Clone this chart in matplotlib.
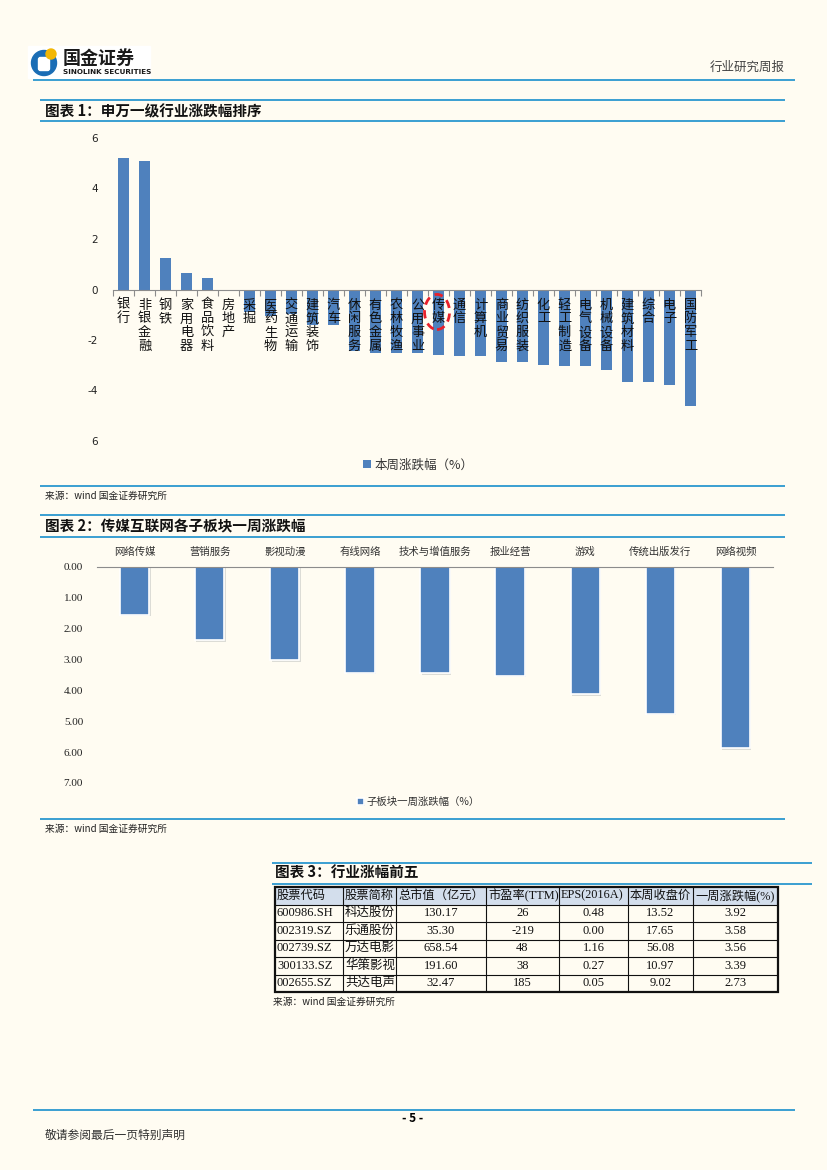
import matplotlib
matplotlib.use("Agg")
import matplotlib.pyplot as plt
from matplotlib.patches import Ellipse, Rectangle, Circle, FancyBboxPatch
import matplotlib.patheffects as pe

# 页面尺寸与颜色
W, H = 827, 1170
BG = "#FFFCF2"
BAR = "#4F81BD"
LINE = "#3A9FD2"
plt.rcParams["font.family"] = ["Noto Sans CJK SC", "DejaVu Sans"]

# 图表1：申万一级行业涨跌幅
industries = ["银行", "非银金融", "钢铁", "家用电器", "食品饮料", "房地产", "采掘",
              "医药生物", "交通运输", "建筑装饰", "汽车", "休闲服务", "有色金属",
              "农林牧渔", "公用事业", "传媒", "通信", "计算机", "商业贸易",
              "纺织服装", "化工", "轻工制造", "电气设备", "机械设备", "建筑材料",
              "综合", "电子", "国防军工"]
changes = [5.19, 5.10, 1.23, 0.67, 0.47, -0.05, -0.91, -1.06, -0.99, -1.39, -1.39,
           -2.45, -2.50, -2.50, -2.52, -2.60, -2.65, -2.65, -2.88, -2.88, -3.00,
           -3.04, -3.04, -3.20, -3.67, -3.67, -3.80, -4.62]
y1_ticks = [6, 4, 2, 0, -2, -4, -6]
y1_labels = ["6", "4", "2", "0", "-2", "-4", "6"]

# 图表2：传媒互联网各子板块一周涨跌幅
sub_sectors = ["网络传媒", "营销服务", "影视动漫", "有线网络", "技术与增值服务",
               "报业经营", "游戏", "传统出版发行", "网络视频"]
sub_changes = [1.55, 2.38, 3.03, 3.42, 3.44, 3.53, 4.12, 4.76, 5.87]
y2_ticks = [0, 1, 2, 3, 4, 5, 6, 7]

# 图表3：行业涨幅前五
table_header = ["股票代码", "股票简称", "总市值（亿元）", "市盈率(TTM)", "EPS(2016A)",
                "本周收盘价", "一周涨跌幅(%)"]
table_rows = [
    ["600986.SH", "科达股份", "130.17", "26", "0.48", "13.52", "3.92"],
    ["002319.SZ", "乐通股份", "35.30", "-219", "0.00", "17.65", "3.58"],
    ["002739.SZ", "万达电影", "658.54", "48", "1.16", "56.08", "3.56"],
    ["300133.SZ", "华策影视", "191.60", "38", "0.27", "10.97", "3.39"],
    ["002655.SZ", "共达电声", "32.47", "185", "0.05", "9.02", "2.73"],
]


def box(x0, y0, x1, y1):
    return [x0 / W, 1 - y1 / H, (x1 - x0) / W, (y1 - y0) / H]


fig = plt.figure(figsize=(8.27, 11.7), dpi=100, facecolor=BG)

# 页面装饰（像素坐标）
page = fig.add_axes([0, 0, 1, 1])
page.set_xlim(0, W)
page.set_ylim(H, 0)
page.axis("off")

page.add_patch(Rectangle((28, 46), 122, 32, color="white", zorder=1))
page.add_patch(Circle((44, 63), 12.5, color="#1A6DB5", zorder=2))
page.add_patch(FancyBboxPatch((39, 58), 10, 12, boxstyle="round,pad=0.5,rounding_size=2",
                              color="white", zorder=3))
page.add_patch(Circle((51, 54), 5, color="#F2B705", zorder=4))
page.text(63, 58, "国金证券", fontsize=13, fontweight="bold", color="#1a1a1a", va="center")
page.text(63, 71.5, "SINOLINK SECURITIES", fontsize=5.2, fontweight="bold",
          family="DejaVu Sans", color="#1a1a1a", va="center")
page.text(785, 67, "行业研究周报", fontsize=9, color="#444444", ha="right", va="center")

for y, x0, x1 in [(80, 33, 795), (100, 40, 785), (121, 40, 785), (486, 40, 785),
                  (515, 40, 785), (537, 40, 785), (819, 40, 785), (863, 272, 812),
                  (884, 272, 812), (1110, 33, 795)]:
    page.plot([x0, x1], [y, y], color=LINE, lw=1.4, solid_capstyle="butt")

page.text(45, 111, "图表 1：申万一级行业涨跌幅排序", fontsize=10.5, fontweight="bold",
          color="#111111", va="center")
page.text(45, 526, "图表 2：传媒互联网各子板块一周涨跌幅", fontsize=10.5, fontweight="bold",
          color="#111111", va="center")
page.text(275, 873, "图表 3：行业涨幅前五", fontsize=10.5, fontweight="bold",
          color="#111111", va="center")
for x, y in [(45, 496), (45, 829), (273, 1002)]:
    page.text(x, y, "来源：wind 国金证券研究所", fontsize=7, color="#222222", va="center")
page.text(413, 1119, "- 5 -", fontsize=8.5, fontweight="bold", ha="center", va="center")
page.text(45, 1135, "敬请参阅最后一页特别声明", fontsize=8.5, color="#333333", va="center")

# 图表1
ax1 = fig.add_axes(box(113, 138, 701, 441))
ax1.set_facecolor("none")
n = len(industries)
ax1.bar(range(n), changes, width=0.55, color=BAR, label="本周涨跌幅（%）", zorder=2)
ax1.set_xlim(-0.5, n - 0.5)
ax1.set_ylim(-6, 6)
for s in ["top", "right", "left"]:
    ax1.spines[s].set_visible(False)
ax1.spines["bottom"].set_position(("data", 0))
ax1.spines["bottom"].set_color("#8C8C8C")
ax1.set_xticks([i - 0.5 for i in range(n + 1)])
ax1.tick_params(axis="x", length=4, color="#8C8C8C", labelbottom=False)
ax1.set_yticks(y1_ticks, y1_labels)
ax1.tick_params(axis="y", length=0, pad=11, labelsize=7.5, labelcolor="#222222")
for lab in ax1.get_yticklabels():
    lab.set_family("DejaVu Sans")
for i, name in enumerate(industries):
    ax1.text(i, -0.36, "\n".join(name), ha="center", va="top", fontsize=9.5,
             linespacing=1.08, color="#111111", zorder=3)
ax1.add_patch(Ellipse((14.93, -0.89), 1.19, 1.39, fill=False, ec="#E8202A",
                      ls=(0, (3, 2)), lw=2, zorder=4))
ax1.legend(loc="center left", bbox_to_anchor=(352 / W, 1 - 465 / H),
           bbox_transform=fig.transFigure, frameon=False, fontsize=9,
           handlelength=0.6, handleheight=0.6, handletextpad=0.3,
           labelcolor="#333333")

# 图表2
ax2 = fig.add_axes(box(97, 567, 773, 783))
ax2.set_facecolor("none")
bars = ax2.bar(range(len(sub_sectors)), sub_changes, width=0.39, color=BAR,
               edgecolor="white", lw=1.2, label="子板块一周涨跌幅（%）", zorder=2)
for b in bars:
    b.set_path_effects([pe.SimplePatchShadow(offset=(1, -1), alpha=0.15), pe.Normal()])
ax2.set_xlim(-0.5, len(sub_sectors) - 0.5)
ax2.set_ylim(7, 0)
for s in ["bottom", "right", "left"]:
    ax2.spines[s].set_visible(False)
ax2.spines["top"].set_color("#8C8C8C")
ax2.xaxis.tick_top()
ax2.set_xticks(range(len(sub_sectors)), sub_sectors)
ax2.tick_params(axis="x", length=0, pad=7, labelsize=7.5, labelcolor="#333333")
ax2.set_yticks(y2_ticks, [f"{v:.2f}" for v in y2_ticks])
ax2.tick_params(axis="y", length=0, pad=10, labelsize=8, labelcolor="#222222")
for lab in ax2.get_yticklabels():
    lab.set_family("Liberation Serif")
ax2.legend(loc="center left", bbox_to_anchor=(348 / W, 1 - 802 / H),
           bbox_transform=fig.transFigure, frameon=False, fontsize=7.5,
           handlelength=0.6, handleheight=0.6, handletextpad=0.3,
           labelcolor="#333333")

# 图表3：表格
ax3 = fig.add_axes(box(275, 887, 778, 992))
ax3.set_xlim(275, 778)
ax3.set_ylim(992, 887)
ax3.axis("off")
col_edges = [275, 343, 396, 486, 559, 628, 693, 778]
row_h = 105 / 6
ax3.add_patch(Rectangle((275, 887), 503, row_h, color="#D3DEEC", zorder=1))
for k in range(1, 6):
    ax3.plot([275, 778], [887 + k * row_h] * 2, color="#111111", lw=0.8, zorder=2)
for xe in col_edges[1:-1]:
    ax3.plot([xe, xe], [887, 992], color="#111111", lw=0.8, zorder=2)
ax3.add_patch(Rectangle((275, 887), 503, 105, fill=False, ec="#111111", lw=1.6,
                        zorder=3, clip_on=False))
tfont = ["Liberation Serif", "Noto Sans CJK SC"]
for j, h in enumerate(table_header):
    ax3.text(col_edges[j] + 2, 887 + row_h / 2, h, fontsize=8.8, family=tfont,
             va="center", ha="left", color="#111111", zorder=4)
for r, row in enumerate(table_rows):
    yc = 887 + (r + 1.5) * row_h
    for j, v in enumerate(row):
        if j < 2:
            ax3.text(col_edges[j] + 2, yc, v, fontsize=9, family=tfont,
                     va="center", ha="left", color="#111111", zorder=4)
        else:
            ax3.text((col_edges[j] + col_edges[j + 1]) / 2, yc, v, fontsize=9,
                     family=tfont, va="center", ha="center", color="#111111", zorder=4)

fig.savefig("out.png", dpi=100, facecolor=BG)
